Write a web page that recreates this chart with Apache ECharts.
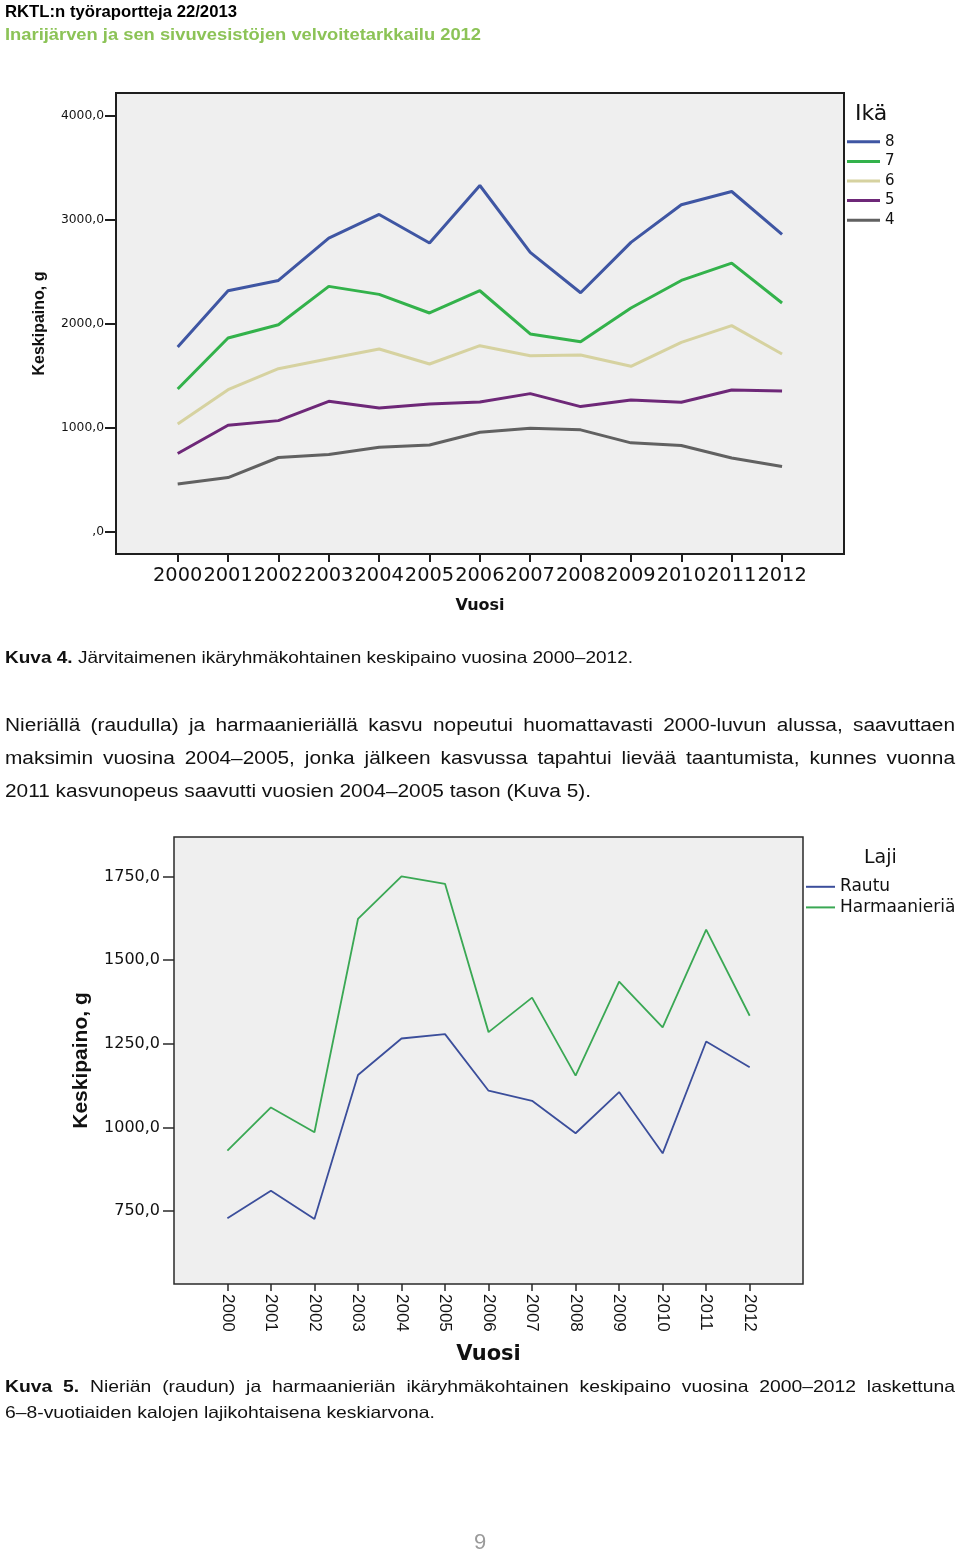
<!DOCTYPE html>
<html><head><meta charset="utf-8">
<script src="https://cdn.jsdelivr.net/npm/echarts@6/dist/echarts.min.js"></script>
<style>
html,body{margin:0;padding:0;background:#fff;}
#page{position:relative;width:960px;height:1552px;overflow:hidden;font-family:"Liberation Sans",Arial,sans-serif;}
#chart{position:absolute;left:0;top:0;width:960px;height:1552px;}
.t{position:absolute;white-space:nowrap;line-height:1;color:#111;transform-origin:0 0;}
</style></head><body>
<div id="page"><div id="chart"></div></div>
<script>
// ---- data ----
const years = [2000,2001,2002,2003,2004,2005,2006,2007,2008,2009,2010,2011,2012];
// Kuva 4: järvitaimen, keskipaino (g) ikäryhmittäin
const ageNames = ['8','7','6','5','4'];
const age8 = [1776,2317,2416,2824,3051,2776,3330,2686,2298,2782,3144,3272,2859];
const age7 = [1372,1862,1990,2359,2282,2103,2317,1901,1827,2151,2416,2583,2199];
const age6 = [1035,1365,1567,1663,1756,1612,1788,1692,1699,1590,1820,1981,1708];
const age5 = [750,1022,1067,1253,1189,1228,1247,1327,1202,1266,1244,1362,1353];
const age4 = [458,519,712,740,811,833,955,994,978,853,827,708,625];
const yTicks1 = [0,1000,2000,3000,4000];
const yTickLabels1 = [',0','1000,0','2000,0','3000,0','4000,0'];
// Kuva 5: nieriä (rautu) ja harmaanieriä
const speciesNames = ['Rautu','Harmaanieriä'];
const rautu = [729,811,727,1157,1266,1279,1110,1080,983,1106,923,1257,1180];
const harmaa = [931,1060,986,1623,1750,1728,1285,1388,1155,1436,1299,1591,1334];
const yTicks2 = [750,1000,1250,1500,1750];
const yTickLabels2 = ['750,0','1000,0','1250,0','1500,0','1750,0'];

// ---- page text ----
const page = document.getElementById('page');
const texts = [
  {id:'h1', html:'RKTL:n työraportteja 22/2013', x:5, base:17.3, size:16.5, bold:true, width:232, color:'#000'},
  {id:'h2', html:'Inarijärven ja sen sivuvesistöjen velvoitetarkkailu 2012', x:5, base:40, size:16.5, bold:true, width:476, color:'#8cc357'},
  {id:'c4', html:'<b>Kuva 4.</b> Järvitaimenen ikäryhmäkohtainen keskipaino vuosina 2000–2012.', x:5, base:663.3, size:16.5, width:628},
  {id:'p1', html:'Nieriällä (raudulla) ja harmaanieriällä kasvu nopeutui huomattavasti 2000-luvun alussa, saavuttaen', x:5, base:731.7, size:18, width:950, justify:'p3'},
  {id:'p2', html:'maksimin vuosina 2004–2005, jonka jälkeen kasvussa tapahtui lievää taantumista, kunnes vuonna', x:5, base:764.7, size:18, width:950, justify:'p3'},
  {id:'p3', html:'2011 kasvunopeus saavutti vuosien 2004–2005 tason (Kuva 5).', x:5, base:797.7, size:18, width:586},
  {id:'c5a', html:'<b>Kuva 5.</b> Nieriän (raudun) ja harmaanieriän ikäryhmäkohtainen keskipaino vuosina 2000–2012 laskettuna', x:5, base:1391.7, size:16.5, width:950, justify:'c5b'},
  {id:'c5b', html:'6–8-vuotiaiden kalojen lajikohtaisena keskiarvona.', x:5, base:1417.7, size:16.5, width:430},
  {id:'pg', html:'9', x:480, base:1550, size:22, color:'#9a9a9a', center:true}
];
const scales = {};
const els = texts.map(o => {
  const d = document.createElement('div');
  d.className = 't';
  d.innerHTML = o.html;
  d.style.fontSize = o.size + 'px';
  if (o.bold) d.style.fontWeight = 'bold';
  if (o.color) d.style.color = o.color;
  d.style.top = (o.base - 0.8465 * o.size) + 'px';
  d.style.left = o.x + 'px';
  page.appendChild(d);
  return d;
});
// first: stretch-fit lines
texts.forEach((o, i) => {
  const d = els[i];
  const w = d.getBoundingClientRect().width;
  if (o.center) d.style.left = (o.x - w / 2) + 'px';
  if (o.width && !o.justify) {
    const s = o.width / w;
    scales[o.id] = s;
    d.style.transform = 'scaleX(' + s + ')';
  }
});
// then: justified lines with the stretch of their paragraph
texts.forEach((o, i) => {
  if (!o.justify) return;
  const d = els[i];
  const s = scales[o.justify] || 1;
  const w = d.getBoundingClientRect().width;
  const n = (d.textContent.match(/ /g) || []).length;
  d.style.wordSpacing = ((o.width / s - w) / n) + 'px';
  d.style.transform = 'scaleX(' + s + ')';
});

// ---- chart ----
const FONT = 'DejaVu Sans';
const ROT = 'Liberation Sans';
const pairs = vals => years.map((y, i) => [y, vals[i]]);
const pick = (ticks, labels) => v => {
  const i = ticks.findIndex(t => Math.abs(t - v) < 1e-6);
  return i < 0 ? '' : labels[i];
};
const colors1 = ['#3f56a3', '#33b24b', '#d6d2a0', '#6e2878', '#616161'];
const series1Data = [age8, age7, age6, age5, age4];
const colors2 = ['#3b4e9b', '#3aa854'];
const series2Data = [rautu, harmaa];

const chart = echarts.init(document.getElementById('chart'));
const series = [];
ageNames.forEach((n, i) => series.push({
  type:'line', name:n, xAxisIndex:0, yAxisIndex:0, data:pairs(series1Data[i]),
  symbol:'none', color:colors1[i], lineStyle:{width:3, color:colors1[i]},
  emphasis:{disabled:true}, silent:true
}));
speciesNames.forEach((n, i) => series.push({
  type:'line', name:n, xAxisIndex:1, yAxisIndex:1, data:pairs(series2Data[i]),
  symbol:'none', color:colors2[i], lineStyle:{width:1.8, color:colors2[i]},
  emphasis:{disabled:true}, silent:true
}));

chart.setOption({
  animation:false,
  title:[
    {text:'Ikä', left:855, top:103, padding:0, textStyle:{fontFamily:FONT, fontSize:22, fontWeight:'normal', color:'#111'}},
    {text:'Laji', left:864, top:849, padding:0, textStyle:{fontFamily:FONT, fontSize:19, fontWeight:'normal', color:'#111'}}
  ],
  legend:[
    {data:ageNames, orient:'vertical', left:847, top:132, padding:0, itemWidth:33, itemHeight:3, itemGap:0, icon:'rect',
     itemStyle:{borderWidth:0}, selectedMode:false,
     textStyle:{fontFamily:FONT, fontSize:15, color:'#111', lineHeight:19.6}},
    {data:speciesNames, orient:'vertical', left:806, top:876.5, padding:0, itemWidth:29, itemHeight:2, itemGap:0, icon:'rect',
     itemStyle:{borderWidth:0}, selectedMode:false,
     textStyle:{fontFamily:FONT, fontSize:17, color:'#111', lineHeight:20.6}}
  ],
  grid:[
    {left:116, top:93, width:728, height:461, show:true, backgroundColor:'#efefef', borderColor:'#1e1e1e', borderWidth:2, outerBoundsMode:'none'},
    {left:174, top:837, width:629, height:447, show:true, backgroundColor:'#efefef', borderColor:'#2a2a2a', borderWidth:1.5, outerBoundsMode:'none'}
  ],
  xAxis:[
    {gridIndex:0, type:'value', min:1998.775, max:2013.23, splitLine:{show:false},
     axisLine:{show:false, onZero:false},
     axisTick:{show:true, customValues:years, length:8, lineStyle:{color:'#1e1e1e', width:2}},
     axisLabel:{customValues:years, formatter:v => String(Math.round(v)), margin:12, fontFamily:FONT, fontSize:19.4, color:'#111'},
     name:'Vuosi', nameLocation:'middle', nameGap:44,
     nameTextStyle:{fontFamily:FONT, fontWeight:'bold', fontSize:16, color:'#111'}},
    {gridIndex:1, type:'value', min:1998.773, max:2013.225, splitLine:{show:false},
     axisLine:{show:false, onZero:false},
     axisTick:{show:true, customValues:years, length:7, lineStyle:{color:'#2a2a2a', width:1.5}},
     axisLabel:{customValues:years, formatter:v => String(Math.round(v)), rotate:-90, margin:10, fontFamily:ROT, fontSize:17, color:'#111'},
     name:'Vuosi', nameLocation:'middle', nameGap:60,
     nameTextStyle:{fontFamily:FONT, fontWeight:'bold', fontSize:21, color:'#111'}}
  ],
  yAxis:[
    {gridIndex:0, type:'value', min:-216.6, max:4220, splitLine:{show:false},
     axisLine:{show:false, onZero:false},
     axisTick:{show:true, customValues:yTicks1, length:11, lineStyle:{color:'#1e1e1e', width:2}},
     axisLabel:{customValues:yTicks1, formatter:pick(yTicks1, yTickLabels1), margin:12, fontFamily:FONT, fontSize:12.3, color:'#111'},
     name:'Keskipaino, g', nameLocation:'middle', nameGap:68,
     nameTextStyle:{fontFamily:ROT, fontWeight:'bold', fontSize:16, color:'#111'}},
    {gridIndex:1, type:'value', min:532.7, max:1867.8, splitLine:{show:false},
     axisLine:{show:false, onZero:false},
     axisTick:{show:true, customValues:yTicks2, length:11, lineStyle:{color:'#2a2a2a', width:1.5}},
     axisLabel:{customValues:yTicks2, formatter:pick(yTicks2, yTickLabels2), margin:14, fontFamily:FONT, fontSize:16, color:'#111'},
     name:'Keskipaino, g', nameLocation:'middle', nameGap:82,
     nameTextStyle:{fontFamily:ROT, fontWeight:'bold', fontSize:21, color:'#111'}}
  ],
  series:series
});
</script>
</body></html>
